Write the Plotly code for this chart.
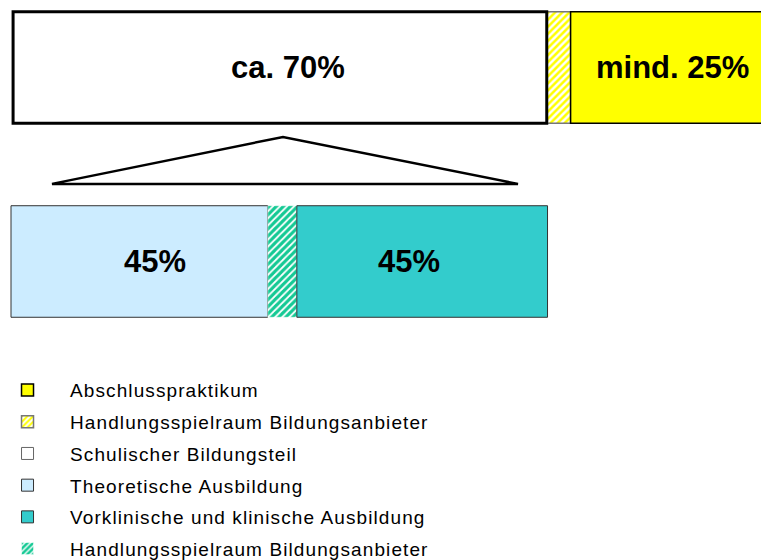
import numpy as np
import plotly.graph_objects as go

# ---- data (shares in % of the overall width) ----
ROW_Y = [1, 0]          # top row: whole training, bottom row: school part
OFFSET = [1.7, 1.43]    # empty space left of each bar, in axis units

TOP_NAMES = ["Schulischer Bildungsteil", "Handlungsspielraum Bildungsanbieter", "Abschlusspraktikum"]
TOP_VALUES = [69.4, 3.1, 26.5]
TOP_COLORS = ["#FFFFFF", "#FFFF00", "#FFFF00"]
TOP_PATTERN = ["", "/", ""]
TOP_RANK = [3, 2, 1]

BOT_NAMES = ["Theoretische Ausbildung", "Handlungsspielraum Bildungsanbieter", "Vorklinische und klinische Ausbildung"]
BOT_VALUES = [33.4, 3.77, 32.6]
BOT_COLORS = ["#CCECFF", "#14C994", "#33CCCC"]
BOT_PATTERN = ["", "/", ""]
BOT_RANK = [4, 6, 5]

LABELS = ["ca. 70%", "mind. 25%", "45%", "45%"]
LABEL_X = [37.4, 87.5, 20.2, 53.2]
LABEL_ROW = [1, 1, 0, 0]

TRIANGLE_X = [6.76, 36.8, 67.36]
TRIANGLE_Y = [0.40, 0.642, 0.40]

BAR_WIDTH = 0.575

fig = go.Figure()


def legend_name(name):
    return f'<span style="letter-spacing:1.1px">{name}</span>'


def add_row(names, values, colors, patterns, ranks, y, offset, lines, solidity):
    bases = offset + np.concatenate([[0], np.cumsum(values)[:-1]])
    for name, v, c, p, r, b, ln in zip(names, values, colors, patterns, ranks, bases, lines):
        if p:
            marker = dict(color="#FFFFFF",
                          pattern=dict(shape=p, fgcolor=c, bgcolor="#FFFFFF", size=5, solidity=solidity,
                                       fillmode="replace"),
                          line=ln)
        else:
            marker = dict(color=c, line=ln)
        fig.add_trace(go.Bar(
            x=[v], y=[y], base=[b], orientation="h", name=legend_name(name), marker=marker,
            width=BAR_WIDTH, legendrank=r, legendgroup=str(r), hoverinfo="skip",
        ))
    return bases


top_bases = add_row(TOP_NAMES, TOP_VALUES, TOP_COLORS, TOP_PATTERN, TOP_RANK, ROW_Y[0], OFFSET[0],
                    [dict(color="#666666", width=1), dict(color="#777777", width=1.5),
                     dict(color="#000000", width=1.5)], 0.5)
add_row(BOT_NAMES, BOT_VALUES, BOT_COLORS, BOT_PATTERN, BOT_RANK, ROW_Y[1], OFFSET[1],
        [dict(color="#333333", width=1), dict(color="#FFFFFF", width=0.5), dict(color="#333333", width=1)],
        0.65)

# thick frame around the school part of the top bar (derived from the bar data)
fig.add_shape(type="rect", xref="x", yref="y",
              x0=top_bases[0], x1=top_bases[0] + TOP_VALUES[0],
              y0=ROW_Y[0] - BAR_WIDTH / 2, y1=ROW_Y[0] + BAR_WIDTH / 2,
              line=dict(color="#000000", width=3), fillcolor="rgba(0,0,0,0)")

for t, x, row in zip(LABELS, LABEL_X, LABEL_ROW):
    fig.add_annotation(x=x, y=row, text=f"<b>{t}</b>", showarrow=False,
                       xref="x", yref="y",
                       font=dict(family="Liberation Sans, Arial", size=31, color="#000000"))

path = "M {} {} L {} {} L {} {} Z".format(TRIANGLE_X[0], TRIANGLE_Y[0], TRIANGLE_X[1], TRIANGLE_Y[1],
                                          TRIANGLE_X[2], TRIANGLE_Y[2])
fig.add_shape(type="path", path=path, xref="x", yref="y", line=dict(color="#000000", width=2.5),
              fillcolor="rgba(0,0,0,0)")

# the page body adds an 8 px margin, so the figure is 8 px smaller than the window
fig.update_layout(
    width=761, height=552,
    margin=dict(l=0, r=0, t=0, b=0, autoexpand=False),
    barmode="overlay",
    paper_bgcolor="#FFFFFF", plot_bgcolor="#FFFFFF",
    xaxis=dict(range=[1.04, 100], visible=False, fixedrange=True),
    yaxis=dict(range=[-1.5387, 1.3067], visible=False, fixedrange=True),
    showlegend=True,
    legend=dict(x=-0.0302, xanchor="left", y=0.342, yanchor="top",
                traceorder="grouped", tracegroupgap=4, itemwidth=75,
                font=dict(family="Liberation Sans, Arial", size=19, color="#000000"),
                bgcolor="rgba(0,0,0,0)"),
)

fig.write_html("out.html")
